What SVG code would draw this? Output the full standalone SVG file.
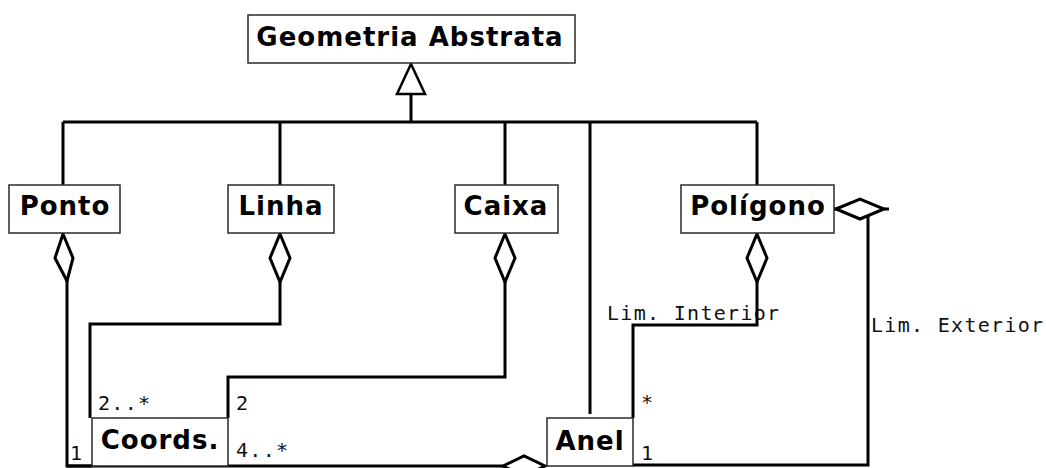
<svg xmlns="http://www.w3.org/2000/svg" width="1046" height="468" viewBox="0 0 1046 468">
  <style>
    .box { fill: #ffffff; stroke: #2a2a2a; stroke-width: 1.5; }
    .name { font-family: "DejaVu Sans", "Liberation Sans", sans-serif; font-weight: bold; font-size: 26px; letter-spacing: 1px; fill: #000; text-anchor: middle; }
    .lbl { font-family: "DejaVu Sans Mono", "Liberation Mono", monospace; font-size: 20px; letter-spacing: 1.3px; fill: #111; }
    .wire { fill: none; stroke: #000; stroke-width: 3; stroke-linejoin: miter; }
    .agg { fill: #ffffff; stroke: #000; stroke-width: 3; stroke-linejoin: miter; }
    .gen { fill: #ffffff; stroke: #000; stroke-width: 2.5; stroke-linejoin: miter; }
  </style>

  <!-- multiplicity and role labels -->
  <g id="labels">
    <text class="lbl" x="607" y="320">Lim. Interior</text>
    <text class="lbl" x="871" y="332">Lim. Exterior</text>
    <text class="lbl" x="98" y="410">2..*</text>
    <text class="lbl" x="236" y="410">2</text>
    <text class="lbl" x="236" y="457">4..*</text>
    <text class="lbl" x="70" y="460">1</text>
    <text class="lbl" x="641" y="409">*</text>
    <text class="lbl" x="641" y="460">1</text>
  </g>

  <g id="connectors">
    <!-- generalisation tree -->
    <path class="wire" d="M63,122 H757 M411,94 V122 M63,122 V185 M280,122 V185 M505,122 V185 M590,122 V414 M757,122 V185"/>
    <polygon class="gen" points="411,64 425,94 397,94"/>

    <!-- Ponto to Coords. -->
    <path class="wire" d="M67,280 V466 H92"/>
    <polygon class="agg" points="63,234 73,258 67,281 55,258"/>

    <!-- Linha to Coords. -->
    <path class="wire" d="M280,282 V324 H90 V418"/>
    <polygon class="agg" points="280,234 290,258 280,282 270,258"/>

    <!-- Caixa to Coords. -->
    <path class="wire" d="M505,282 V377 H228 V418"/>
    <polygon class="agg" points="505,234 515,258 505,282 495,258"/>

    <!-- Anel to Coords. -->
    <path class="wire" d="M67,466 H503"/>
    <polygon class="agg" points="503,466 524,456 545,466 524,476"/>

    <!-- Polígono interior ring -->
    <path class="wire" d="M757,282 V325 H633 V418"/>
    <polygon class="agg" points="757,234 767,258 757,282 747,258"/>

    <!-- Polígono exterior ring -->
    <path class="wire" d="M834,209 H837 M884,209 H889 M868,216 V465 H633"/>
    <polygon class="agg" points="836,209 860,199 884,209 860,219"/>
  </g>

  <g id="geometria-abstrata">
    <rect class="box" x="248" y="15" width="327" height="48"/>
    <text class="name" x="410" y="46">Geometria Abstrata</text>
  </g>
  <g id="ponto">
    <rect class="box" x="9" y="185" width="111" height="48"/>
    <text class="name" x="65" y="215">Ponto</text>
  </g>
  <g id="linha">
    <rect class="box" x="228" y="185" width="106" height="48"/>
    <text class="name" x="281" y="215">Linha</text>
  </g>
  <g id="caixa">
    <rect class="box" x="455" y="185" width="103" height="48"/>
    <text class="name" x="506" y="215">Caixa</text>
  </g>
  <g id="poligono">
    <rect class="box" x="681" y="185" width="153" height="48"/>
    <text class="name" x="758" y="215">Polígono</text>
  </g>
  <g id="coords">
    <rect class="box" x="92" y="418" width="136" height="48"/>
    <text class="name" x="160" y="449">Coords.</text>
  </g>
  <g id="anel">
    <rect class="box" x="547" y="418" width="86" height="48"/>
    <text class="name" x="590" y="450">Anel</text>
  </g>
</svg>
